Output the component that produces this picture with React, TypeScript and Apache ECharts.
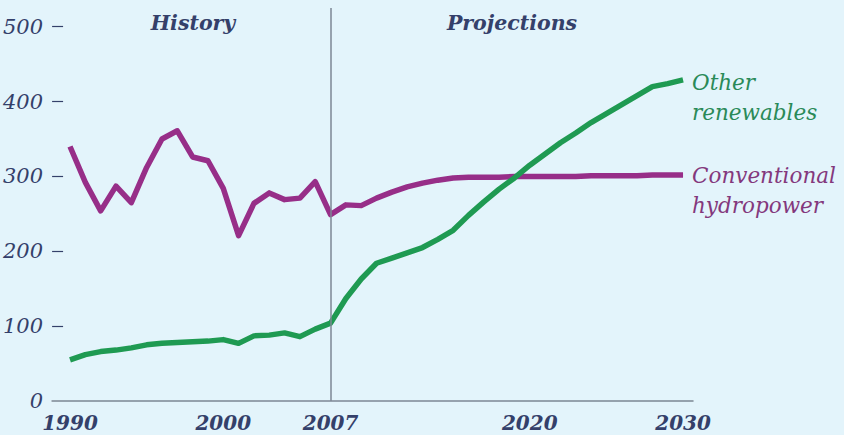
import React, { useEffect, useRef } from "react";
import * as echarts from "echarts";

const years = [
  1990, 1991, 1992, 1993, 1994, 1995, 1996, 1997, 1998, 1999, 2000, 2001, 2002, 2003, 2004, 2005, 2006, 2007,
  2008, 2009, 2010, 2011, 2012, 2013, 2014, 2015, 2016, 2017, 2018, 2019, 2020, 2021, 2022, 2023, 2024, 2025,
  2026, 2027, 2028, 2029, 2030,
];

const hydropower = [
  340, 292, 254, 287, 265, 312, 350, 361, 326, 321, 284, 221, 264, 278, 269, 271, 293, 249,
  262, 261, 271, 279, 286, 291, 295, 298, 299, 299, 299, 300, 300, 300, 300, 300, 301, 301,
  301, 301, 302, 302, 302,
];

const otherRenewables = [
  55, 62, 66, 68, 71, 75, 77, 78, 79, 80, 82, 77, 87, 88, 91, 86, 96, 104,
  137, 163, 184, 191, 198, 205, 216, 228, 248, 266, 283, 298, 315, 330, 345, 358, 372, 384,
  396, 408, 420, 424, 429,
];

const xTickLabels = [1990, 2000, 2007, 2020, 2030];
const yTickLabels = [0, 100, 200, 300, 400, 500];
const periodYear = 2007;
const periodLabels = ["History", "Projections"];
const seriesLabels = [
  ["Other", "renewables"],
  ["Conventional", "hydropower"],
];

const NAVY = "#34406a";
const GREEN = "#1f9a52";
const GREEN_TEXT = "#2a8a58";
const PURPLE = "#972e88";
const PURPLE_TEXT = "#83387d";
const GREY = "#7c8794";
const FONT = "'DejaVu Serif', serif";

export default function App() {
  const ref = useRef<HTMLDivElement>(null);

  useEffect(() => {
    if (!ref.current) return;
    const chart = echarts.init(ref.current, null, { renderer: "svg" });
    const textStyle = (color: string, size: number, weight: string = "normal") => ({
      fill: color,
      font: `italic ${weight} ${size}px ${FONT}`,
    });
    chart.setOption({
      animation: false,
      backgroundColor: "#e3f4fb",
      grid: { left: 50, right: 151, top: 8, bottom: 34 },
      xAxis: {
        type: "value",
        min: 1988.83,
        max: 2030.65,
        axisLine: { show: true, lineStyle: { color: GREY, width: 1.5 } },
        axisTick: { show: false },
        splitLine: { show: false },
        axisLabel: {
          customValues: xTickLabels,
          formatter: (v: number) => String(v),
          margin: 12,
          color: NAVY,
          fontFamily: FONT,
          fontStyle: "italic",
          fontWeight: "bold",
          fontSize: 20,
        },
      },
      yAxis: {
        type: "value",
        min: 0,
        max: 525,
        interval: 100,
        axisLine: { show: false },
        splitLine: { show: false },
        axisTick: {
          show: true,
          inside: true,
          length: 11,
          customValues: [100, 200, 300, 400, 500],
          lineStyle: { color: NAVY, width: 1.2 },
        },
        axisLabel: {
          customValues: yTickLabels,
          formatter: (v: number) => String(v),
          margin: 9,
          color: NAVY,
          fontFamily: FONT,
          fontStyle: "italic",
          fontSize: 21,
        },
      },
      series: [
        {
          name: "Conventional hydropower",
          type: "line",
          data: years.map((y, i) => [y, hydropower[i]]),
          showSymbol: false,
          symbol: "none",
          lineStyle: { color: PURPLE, width: 5.5, join: "round" },
          markLine: {
            silent: true,
            symbol: "none",
            label: { show: false },
            lineStyle: { color: GREY, width: 1.5, type: "solid" },
            data: [{ xAxis: periodYear }],
          },
        },
        {
          name: "Other renewables",
          type: "line",
          data: years.map((y, i) => [y, otherRenewables[i]]),
          showSymbol: false,
          symbol: "none",
          lineStyle: { color: GREEN, width: 5.5, join: "round" },
        },
      ],
      graphic: [
        { type: "text", x: 193, y: 23, style: { text: periodLabels[0], align: "center", verticalAlign: "middle", ...textStyle(NAVY, 20.5, "bold") } },
        { type: "text", x: 512, y: 23, style: { text: periodLabels[1], align: "center", verticalAlign: "middle", ...textStyle(NAVY, 20.5, "bold") } },
        { type: "text", x: 692, y: 82, style: { text: seriesLabels[0][0], align: "left", verticalAlign: "middle", ...textStyle(GREEN_TEXT, 21.5) } },
        { type: "text", x: 692, y: 112, style: { text: seriesLabels[0][1], align: "left", verticalAlign: "middle", ...textStyle(GREEN_TEXT, 21.5) } },
        { type: "text", x: 692, y: 175, style: { text: seriesLabels[1][0], align: "left", verticalAlign: "middle", ...textStyle(PURPLE_TEXT, 21.5) } },
        { type: "text", x: 692, y: 205, style: { text: seriesLabels[1][1], align: "left", verticalAlign: "middle", ...textStyle(PURPLE_TEXT, 21.5) } },
      ],
    });
    return () => chart.dispose();
  }, []);

  return <div ref={ref} style={{ width: 844, height: 435, position: "fixed", left: 0, top: 0 }} />;
}
